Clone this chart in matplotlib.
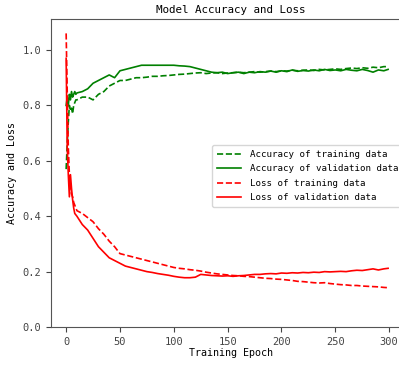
import matplotlib
matplotlib.use('Agg')
import matplotlib.pyplot as plt

# ------------------------------------------------------------
# data read off the reference (epochs sampled, dense at start)
# ------------------------------------------------------------
epochs = list(range(0, 10)) + list(range(10, 300, 5)) + [299]

train_acc = [0.57, 0.66, 0.74, 0.80, 0.78, 0.79, 0.77, 0.80, 0.81, 0.82,
             0.82, 0.83, 0.83, 0.82, 0.84, 0.85, 0.87, 0.88, 0.89, 0.89,
             0.895, 0.90, 0.90, 0.902, 0.905, 0.905, 0.907, 0.908, 0.91, 0.912,
             0.913, 0.915, 0.917, 0.918, 0.915, 0.917, 0.918, 0.915, 0.917, 0.918,
             0.92, 0.918, 0.92, 0.922, 0.92, 0.922, 0.924, 0.922, 0.925, 0.924,
             0.927, 0.925, 0.927, 0.928, 0.926, 0.93, 0.928, 0.93, 0.932, 0.93,
             0.933, 0.935, 0.933, 0.936, 0.934, 0.938, 0.936, 0.94, 0.94]

val_acc = [0.80, 0.83, 0.80, 0.84, 0.82, 0.85, 0.83, 0.84, 0.85, 0.84,
           0.845, 0.85, 0.86, 0.88, 0.89, 0.90, 0.91, 0.90, 0.925, 0.93,
           0.935, 0.94, 0.945, 0.945, 0.945, 0.945, 0.945, 0.945, 0.945, 0.943,
           0.942, 0.94, 0.935, 0.93, 0.925, 0.92, 0.918, 0.92, 0.915, 0.918,
           0.92, 0.915, 0.92, 0.918, 0.922, 0.92, 0.924, 0.92, 0.925, 0.922,
           0.928, 0.923, 0.926, 0.924, 0.928, 0.925, 0.93, 0.926, 0.928, 0.925,
           0.93, 0.927, 0.925, 0.93, 0.926, 0.92, 0.928, 0.925, 0.93]

train_loss = [1.06, 0.85, 0.65, 0.55, 0.50, 0.48, 0.47, 0.45, 0.44, 0.43,
              0.42, 0.41, 0.395, 0.38, 0.355, 0.335, 0.31, 0.29, 0.265, 0.26,
              0.255, 0.25, 0.245, 0.24, 0.235, 0.23, 0.225, 0.22, 0.215, 0.212,
              0.21, 0.207, 0.205, 0.202, 0.198, 0.195, 0.192, 0.19, 0.188, 0.186,
              0.185, 0.183, 0.182, 0.18, 0.178, 0.176, 0.175, 0.173, 0.172, 0.17,
              0.168, 0.165, 0.164, 0.162, 0.16, 0.159, 0.16, 0.157, 0.155, 0.153,
              0.152, 0.15, 0.15, 0.148, 0.147, 0.146, 0.145, 0.143, 0.142]

val_loss = [0.97, 0.65, 0.55, 0.47, 0.55, 0.50, 0.46, 0.43, 0.41, 0.405,
            0.40, 0.37, 0.35, 0.32, 0.29, 0.27, 0.25, 0.24, 0.23, 0.22,
            0.215, 0.21, 0.205, 0.20, 0.197, 0.193, 0.19, 0.187, 0.183, 0.18,
            0.178, 0.178, 0.18, 0.19, 0.188, 0.186, 0.185, 0.184, 0.185, 0.183,
            0.185, 0.186, 0.188, 0.19, 0.19, 0.192, 0.193, 0.192, 0.195, 0.194,
            0.196, 0.195, 0.197, 0.196, 0.198, 0.197, 0.2, 0.199, 0.2, 0.201,
            0.2, 0.203, 0.205, 0.204, 0.207, 0.21, 0.206, 0.21, 0.212]

labels = ['Accuracy of training data', 'Accuracy of validation data',
          'Loss of training data', 'Loss of validation data']

# ------------------------------------------------------------
# plot (axes run past the right edge: the reference is cropped there)
# ------------------------------------------------------------
plt.rcParams['font.family'] = ['DejaVu Sans Mono']
plt.rcParams['font.size'] = 7.2

fig = plt.figure(figsize=(3.99, 3.65), dpi=100)
ax = fig.add_axes([0.128, 0.104, 0.9, 0.844])

ax.plot(epochs, train_acc, 'g--', lw=1.2, label=labels[0])
ax.plot(epochs, val_acc, 'g-', lw=1.2, label=labels[1])
ax.plot(epochs, train_loss, 'r--', lw=1.2, label=labels[2])
ax.plot(epochs, val_loss, 'r-', lw=1.2, label=labels[3])

ax.set_xlim(-14, 319.5)
ax.set_ylim(0, 1.112)
ax.set_xticks([0, 50, 100, 150, 200, 250, 300])
ax.set_yticks([0.0, 0.2, 0.4, 0.6, 0.8, 1.0])

ax.set_title('Model Accuracy and Loss', fontsize=7.8, pad=4)
ax.set_xlabel('Training Epoch', labelpad=1)
ax.set_ylabel('Accuracy and Loss', labelpad=4)

for s in ax.spines.values():
    s.set_color('#555555')
ax.tick_params(colors='#444444', labelsize=7.5, length=3.5)

ax.legend(loc='center right', bbox_to_anchor=(0.985, 0.49), fontsize=6.6,
          handlelength=2.6, handletextpad=1.0, borderpad=0.5,
          labelspacing=0.6, borderaxespad=0.2)

fig.savefig('out.png', dpi=100)
